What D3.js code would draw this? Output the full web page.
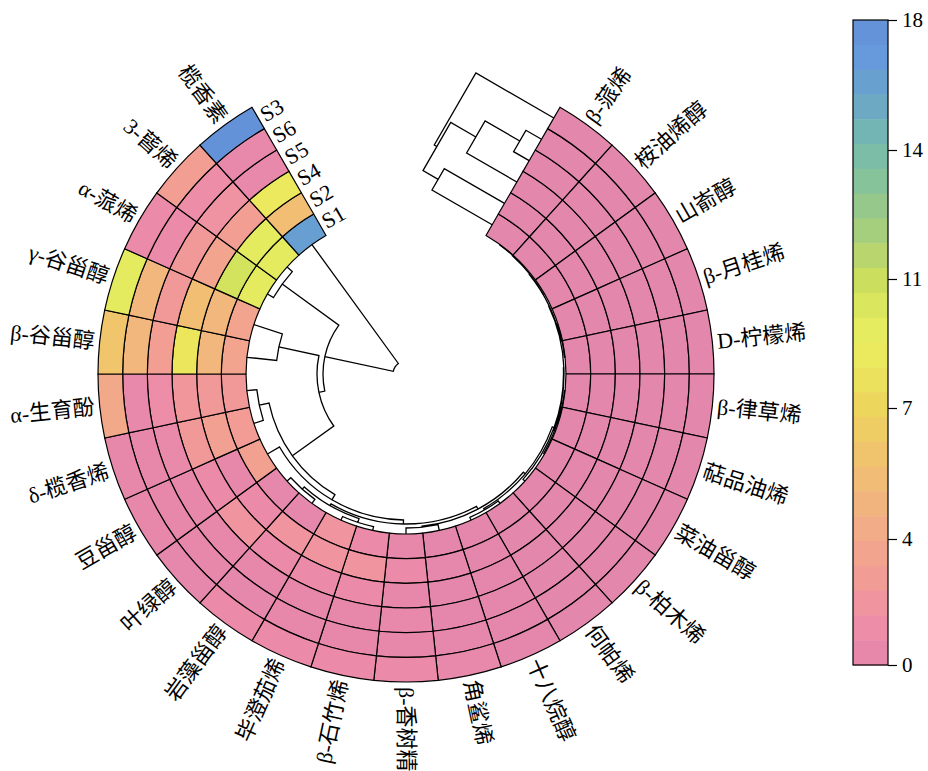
<!DOCTYPE html>
<html>
<head>
<meta charset="utf-8">
<script src="https://cdn.jsdelivr.net/npm/d3@7"></script>
<style>
  body { margin: 0; background: #fff; }
  svg { display: block; }
  text { font-family: "Liberation Serif", "Noto Sans CJK SC", serif; fill: #000; }
</style>
</head>
<body>
<svg id="chart" width="928" height="771"></svg>
<script>
// Compounds in clockwise order around the ring (leaf order of the row clustering)
const compounds = [
  "β-蒎烯", "桉油烯醇", "山嵛醇", "β-月桂烯", "D-柠檬烯",
  "β-律草烯", "萜品油烯", "菜油甾醇", "β-柏木烯", "何帕烯",
  "十八烷醇", "角鲨烯", "β-香树精", "β-石竹烯", "毕澄茄烯",
  "岩藻甾醇", "叶绿醇", "豆甾醇", "δ-榄香烯", "α-生育酚",
  "β-谷甾醇", "γ-谷甾醇", "α-蒎烯", "3-蒈烯", "榄香素"
];

// Samples from the innermost ring to the outermost ring
const samples = ["S1", "S2", "S4", "S5", "S6", "S3"];

// Relative content per sample, one value per compound (same order as compounds)
const S1 = [0.1, 0.1, 0.1, 0.1, 0.1, 0.1, 0.1, 0.15, 0.1, 0.15, 0.2, 0.2, 0.4, 1.0, 2.0, 0.3, 0.3, 3.3, 2.8, 2.5, 3.5, 3.5, 9.5, 9.5, 16.3];
const S2 = [0.1, 0.1, 0.1, 0.1, 0.1, 0.1, 0.1, 0.1, 0.1, 0.1, 0.2, 0.3, 1.0, 2.0, 2.0, 2.0, 1.0, 0.4, 3.2, 2.5, 5.0, 5.0, 10.5, 9.5, 5.5];
const S4 = [0.1, 0.1, 0.1, 0.1, 0.1, 0.1, 0.1, 0.1, 0.1, 0.1, 0.2, 0.2, 0.4, 1.0, 1.0, 1.0, 2.0, 1.0, 2.5, 2.3, 8.3, 5.5, 3.5, 3.0, 8.5];
const S5 = [0.1, 0.1, 0.1, 0.1, 0.1, 0.1, 0.1, 0.1, 0.1, 0.1, 0.2, 0.2, 0.6, 0.4, 0.4, 0.4, 0.4, 0.4, 0.8, 1.2, 3.0, 2.5, 2.5, 1.8, 0.5];
const S6 = [0.1, 0.1, 0.1, 0.1, 0.1, 0.1, 0.1, 0.1, 0.1, 0.1, 0.2, 0.3, 0.4, 0.4, 0.4, 0.3, 0.4, 0.4, 0.4, 0.5, 5.0, 5.0, 1.0, 1.2, 0.5];
const S3 = [0.1, 0.1, 0.1, 0.1, 0.1, 0.1, 0.1, 0.1, 0.1, 0.1, 0.2, 0.5, 0.9, 1.0, 1.0, 1.0, 0.3, 0.4, 0.4, 4.0, 6.0, 9.5, 1.0, 3.0, 17.8];

// Colour key
const legendTicks = [0, 4, 7, 11, 14, 18];
const colourStops = [0, 1, 2, 3, 4, 5, 6, 7, 8, 9, 10, 11, 12, 13, 14, 15, 16, 17, 18];
const colourValues = [
  "#E386AD", "#EC8BA9", "#F0949F", "#F29E93", "#F2A98A", "#F2B77C", "#F0C56C",
  "#EDD45C", "#ECE35C", "#EBEE60", "#DCE85E", "#CADD5E", "#A9D07A", "#8DC594",
  "#78BCAA", "#6FADBC", "#68A2CE", "#6699DE", "#6290D6"
];

// Row clustering (compounds): node name, left child, right child, merge height
const rowNode   = ["T1", "T2", "T3", "T4", "T5", "T6", "T7", "T8", "T9", "T10", "Q", "R", "P2", "P1", "P3", "M1", "M", "K", "G", "F", "D", "X1", "B", "root"];
const rowLeft   = ["β-蒎烯", "T1", "β-月桂烯", "T2", "β-律草烯", "T5", "T4", "T7", "何帕烯", "T8", "角鲨烯", "T10", "β-石竹烯", "岩藻甾醇", "P2", "R", "M1", "δ-榄香烯", "M", "β-谷甾醇", "G", "α-蒎烯", "D", "B"];
const rowRight  = ["桉油烯醇", "山嵛醇", "D-柠檬烯", "T3", "萜品油烯", "菜油甾醇", "T6", "β-柏木烯", "十八烷醇", "T9", "β-香树精", "Q", "毕澄茄烯", "叶绿醇", "P1", "P3", "豆甾醇", "α-生育酚", "K", "γ-谷甾醇", "F", "3-蒈烯", "X1", "榄香素"];
const rowHeight = [0.05, 0.1, 0.05, 0.15, 0.05, 0.1, 0.2, 0.25, 0.3, 0.45, 0.6, 0.7, 0.4, 0.5, 0.8, 1.0, 1.4, 1.0, 2.0, 3.0, 7.1, 0.7, 7.7, 14.7];

// Column clustering (samples)
const colNode   = ["C1", "C2", "C3", "C4", "C5"];
const colLeft   = ["S6", "C1", "S2", "C2", "S3"];
const colRight  = ["S5", "S4", "S1", "C3", "C4"];
const colHeight = [18, 58, 69.5, 87, 90];

// ---------------------------------------------------------------------------
const svg = d3.select("#chart");
const cx = 406, cy = 374;
const rIn = 160, rOut = 308;

const valuesBySample = { S1, S2, S4, S5, S6, S3 };

const angle = d3.scaleBand().domain(compounds).range([Math.PI / 6, 11 * Math.PI / 6]).padding(0);
const ring = d3.scaleBand().domain(samples).range([rIn, rOut]).padding(0);
const colour = d3.scaleLinear().domain(colourStops).range(colourValues)
  .interpolate(d3.interpolateRgb).clamp(true);

const polar = (a, r) => [cx + r * Math.sin(a), cy - r * Math.cos(a)];
const midAngle = c => angle(c) + angle.bandwidth() / 2;

const g = svg.append("g");

// Heatmap cells
const cellArc = d3.arc();
const cells = [];
samples.forEach(s => compounds.forEach((c, i) => cells.push({ s, c, v: valuesBySample[s][i] })));
g.append("g").attr("transform", `translate(${cx},${cy})`)
  .selectAll("path").data(cells).join("path")
  .attr("d", d => cellArc({
    innerRadius: ring(d.s), outerRadius: ring(d.s) + ring.bandwidth(),
    startAngle: angle(d.c), endAngle: angle(d.c) + angle.bandwidth()
  }))
  .attr("fill", d => colour(d.v))
  .attr("stroke", "#000").attr("stroke-width", 1.2);

// Row dendrogram, drawn inward from the inner edge of the rings
const rowR = d3.scaleLinear().domain([0, d3.max(rowHeight)]).range([rIn, 13]);
const rowPos = {}, rowH = {};
compounds.forEach(c => { rowPos[c] = midAngle(c); rowH[c] = 0; });
const dendro = d3.path();
rowNode.forEach((n, i) => {
  const a = rowLeft[i], b = rowRight[i], h = rowHeight[i];
  const aa = rowPos[a], ab = rowPos[b], r = rowR(h);
  dendro.moveTo(...polar(aa, rowR(rowH[a])));
  dendro.lineTo(...polar(aa, r));
  dendro.arc(cx, cy, r, aa - Math.PI / 2, ab - Math.PI / 2, ab < aa);
  dendro.lineTo(...polar(ab, rowR(rowH[b])));
  rowPos[n] = (aa + ab) / 2;
  rowH[n] = h;
});
g.append("path").attr("d", dendro.toString())
  .attr("fill", "none").attr("stroke", "#000").attr("stroke-width", 1.3);

// Column dendrogram, in the opening before the first compound
const a0 = angle.range()[0];
const eR = [Math.sin(a0), -Math.cos(a0)];
const eT = [-Math.cos(a0), -Math.sin(a0)];
const colV = d3.scaleLinear().domain([0, 90]).range([0, 90]);
const colPt = (u, v) => [cx + u * eR[0] + v * eT[0], cy + u * eR[1] + v * eT[1]];
const colPos = {}, colH = {};
samples.forEach(s => { colPos[s] = ring(s) + ring.bandwidth() / 2; colH[s] = 0; });
const colPath = d3.path();
colNode.forEach((n, i) => {
  const a = colLeft[i], b = colRight[i], h = colHeight[i];
  colPath.moveTo(...colPt(colPos[a], colV(colH[a])));
  colPath.lineTo(...colPt(colPos[a], colV(h)));
  colPath.lineTo(...colPt(colPos[b], colV(h)));
  colPath.lineTo(...colPt(colPos[b], colV(colH[b])));
  colPos[n] = (colPos[a] + colPos[b]) / 2;
  colH[n] = h;
});
g.append("path").attr("d", colPath.toString())
  .attr("fill", "none").attr("stroke", "#000").attr("stroke-width", 1.3);

// Compound labels
const labelR = rOut + 5;
g.append("g").selectAll("text").data(compounds).join("text")
  .attr("transform", c => {
    const a = midAngle(c), [x, y] = polar(a, labelR);
    const deg = a * 180 / Math.PI;
    return deg <= 180.01
      ? `translate(${x},${y}) rotate(${deg - 90})`
      : `translate(${x},${y}) rotate(${deg - 270})`;
  })
  .attr("text-anchor", c => midAngle(c) * 180 / Math.PI <= 180.01 ? "start" : "end")
  .attr("dominant-baseline", "central")
  .style("font-size", "22px")
  .text(c => c);

// Sample labels at the closing edge of the rings
const a1 = angle.range()[1];
const tDir = [Math.cos(a1), Math.sin(a1)];
g.append("g").selectAll("text").data(samples).join("text")
  .attr("transform", s => {
    const [x, y] = polar(a1, ring(s) + ring.bandwidth() / 2);
    return `translate(${x + 4 * tDir[0]},${y + 4 * tDir[1]}) rotate(${a1 * 180 / Math.PI - 360})`;
  })
  .attr("text-anchor", "start")
  .attr("dominant-baseline", "central")
  .style("font-size", "22px")
  .text(s => s);

// Colour key
const keyX = 853, keyW = 35;
const keyY = d3.scaleLinear().domain(legendTicks).range([665, 539, 408, 279, 150, 20]);
const nBands = 26;
const bands = d3.range(nBands).map(i => {
  const y0 = keyY(18) + (keyY(0) - keyY(18)) * i / nBands;
  const y1 = keyY(18) + (keyY(0) - keyY(18)) * (i + 1) / nBands;
  return { y0, y1, v: keyY.invert((y0 + y1) / 2) };
});
const key = svg.append("g");
key.selectAll("rect.band").data(bands).join("rect").attr("class", "band")
  .attr("x", keyX).attr("width", keyW)
  .attr("y", d => d.y0).attr("height", d => d.y1 - d.y0 + 0.5)
  .attr("fill", d => colour(d.v));
key.append("rect").attr("x", keyX).attr("y", keyY(18)).attr("width", keyW)
  .attr("height", keyY(0) - keyY(18)).attr("fill", "none").attr("stroke", "#000").attr("stroke-width", 1.2);
const keyAxis = d3.axisRight(keyY).tickValues(legendTicks).tickSize(9).tickPadding(5).tickFormat(d3.format("d"));
key.append("g").attr("transform", `translate(${keyX + keyW},0)`).call(keyAxis)
  .call(s => s.select(".domain").remove())
  .call(s => s.selectAll("line").attr("stroke", "#000").attr("stroke-width", 1.2))
  .call(s => s.selectAll("text").style("font-size", "21px").style("font-family", '"Liberation Serif", serif').attr("fill", "#000"));
</script>
</body>
</html>
